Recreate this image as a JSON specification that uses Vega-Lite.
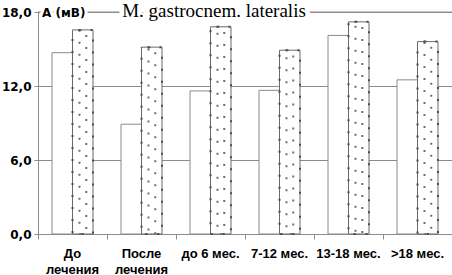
{
  "$schema": "https://vega.github.io/schema/vega-lite/v6.json",
  "width": 414,
  "height": 222,
  "autosize": {"type": "none"},
  "padding": {"left": 38, "top": 12, "right": 0, "bottom": 41},
  "background": "white",
  "config": {"view": {"stroke": null}, "font": "DejaVu Sans"},
  "data": {
    "values": [
      {"group": "До лечения", "series": "1", "value": 14.7},
      {"group": "До лечения", "series": "2", "value": 16.55},
      {"group": "После лечения", "series": "1", "value": 8.9},
      {"group": "После лечения", "series": "2", "value": 15.15},
      {"group": "до 6 мес.", "series": "1", "value": 11.6},
      {"group": "до 6 мес.", "series": "2", "value": 16.8},
      {"group": "7-12 мес.", "series": "1", "value": 11.65},
      {"group": "7-12 мес.", "series": "2", "value": 14.9},
      {"group": "13-18 мес.", "series": "1", "value": 16.1},
      {"group": "13-18 мес.", "series": "2", "value": 17.2},
      {"group": ">18 мес.", "series": "1", "value": 12.5},
      {"group": ">18 мес.", "series": "2", "value": 15.6}
    ]
  },
  "layer": [
    {
      "transform": [{"filter": "datum.group == 'До лечения' && datum.series == '1'"}],
      "mark": {"type": "rule", "color": "#8c8c8c", "strokeWidth": 1},
      "encoding": {"y": {"datum": 18, "type": "quantitative"}}
    },
    {
      "resolve": {"scale": {"xOffset": "independent"}},
      "encoding": {
        "x": {
          "field": "group",
          "type": "nominal",
          "sort": ["До лечения", "После лечения", "до 6 мес.", "7-12 мес.", "13-18 мес.", ">18 мес."],
          "scale": {"paddingInner": 0, "paddingOuter": 0},
          "axis": {
            "title": null,
            "bandPosition": 0,
            "labelAngle": 0,
            "labelFont": "Liberation Sans",
            "labelFontWeight": "bold",
            "labelFontSize": 13,
            "labelColor": "black",
            "labelPadding": 8,
            "labelLineHeight": 16,
            "labelExpr": "(datum.label == 'До лечения' || datum.label == 'После лечения') ? split(datum.label, ' ') : datum.label",
            "domainColor": "#8c8c8c",
            "tickColor": "#8c8c8c",
            "tickSize": 5,
            "grid": false
          }
        },
        "y": {
          "field": "value",
          "type": "quantitative",
          "scale": {"domain": [0, 18], "nice": false},
          "axis": {
            "title": null,
            "values": [0, 6, 12, 18],
            "grid": true,
            "gridColor": "#8c8c8c",
            "domainColor": "#8c8c8c",
            "tickColor": "#8c8c8c",
            "tickSize": 4,
            "labelFont": "DejaVu Sans",
            "labelFontWeight": "bold",
            "labelFontSize": 12,
            "labelColor": "black",
            "labelPadding": 3,
            "labelExpr": "replace(format(datum.value, '.1f'), '.', ',')"
          }
        }
      },
      "layer": [
        {
          "transform": [{"filter": "datum.series == '1'"}],
          "mark": {"type": "bar", "fill": "white", "stroke": "#8a8a8a", "strokeWidth": 1},
          "encoding": {"xOffset": {"field": "series", "type": "nominal", "scale": {"domain": ["1", "2"], "paddingInner": 0, "paddingOuter": 0.683}}}
        },
        {
          "transform": [{"filter": "datum.series == '2'"}],
          "mark": {"type": "bar", "fill": "white", "stroke": "#6a6a6a", "strokeWidth": 1},
          "encoding": {"xOffset": {"field": "series", "type": "nominal", "scale": {"domain": ["1", "2"], "paddingInner": 0, "paddingOuter": 0.683}}}
        },
        {
          "transform": [{"filter": "datum.series == '2'"}],
          "mark": {"type": "bar", "fillOpacity": 0, "stroke": "#6e6e6e", "strokeWidth": 2, "strokeDash": [2, 10]},
          "encoding": {"xOffset": {"field": "series", "type": "nominal", "scale": {"domain": ["1", "2"], "paddingInner": 0.673, "paddingOuter": 1.0195}}}
        },
        {
          "transform": [{"filter": "datum.series == '2'"}],
          "mark": {"type": "bar", "fillOpacity": 0, "stroke": "#4a4a4a", "strokeWidth": 2, "strokeDash": [2, 10], "strokeDashOffset": 6},
          "encoding": {"xOffset": {"field": "series", "type": "nominal", "scale": {"domain": ["1", "2"], "paddingInner": 0, "paddingOuter": 0.683}}}
        },
        {
          "transform": [{"filter": "datum.group == 'до 6 мес.' && datum.series == '1'"}],
          "mark": {"type": "text", "font": "Liberation Serif", "fontSize": 19, "align": "center", "baseline": "alphabetic", "dx": 3.5, "dy": 5, "fill": "white", "stroke": "white", "strokeWidth": 10, "strokeJoin": "round"},
          "encoding": {"y": {"datum": 18}, "text": {"value": "M. gastrocnem. lateralis"}}
        },
        {
          "transform": [{"filter": "datum.group == 'до 6 мес.' && datum.series == '1'"}],
          "mark": {"type": "text", "font": "Liberation Serif", "fontSize": 19, "align": "center", "baseline": "alphabetic", "dx": 3.5, "dy": 5, "fill": "black"},
          "encoding": {"y": {"datum": 18}, "text": {"value": "M. gastrocnem. lateralis"}}
        },
        {
          "transform": [{"filter": "datum.group == 'До лечения' && datum.series == '1'"}],
          "mark": {"type": "text", "font": "DejaVu Sans", "fontWeight": "bold", "fontSize": 12, "align": "left", "baseline": "alphabetic", "dx": -30.5, "dy": 4.5, "fill": "white", "stroke": "white", "strokeWidth": 6, "strokeJoin": "round"},
          "encoding": {"y": {"datum": 18}, "text": {"value": "A (мВ)"}}
        },
        {
          "transform": [{"filter": "datum.group == 'До лечения' && datum.series == '1'"}],
          "mark": {"type": "text", "font": "DejaVu Sans", "fontWeight": "bold", "fontSize": 12, "align": "left", "baseline": "alphabetic", "dx": -30.5, "dy": 4.5, "fill": "black"},
          "encoding": {"y": {"datum": 18}, "text": {"value": "A (мВ)"}}
        }
      ]
    }
  ]
}
